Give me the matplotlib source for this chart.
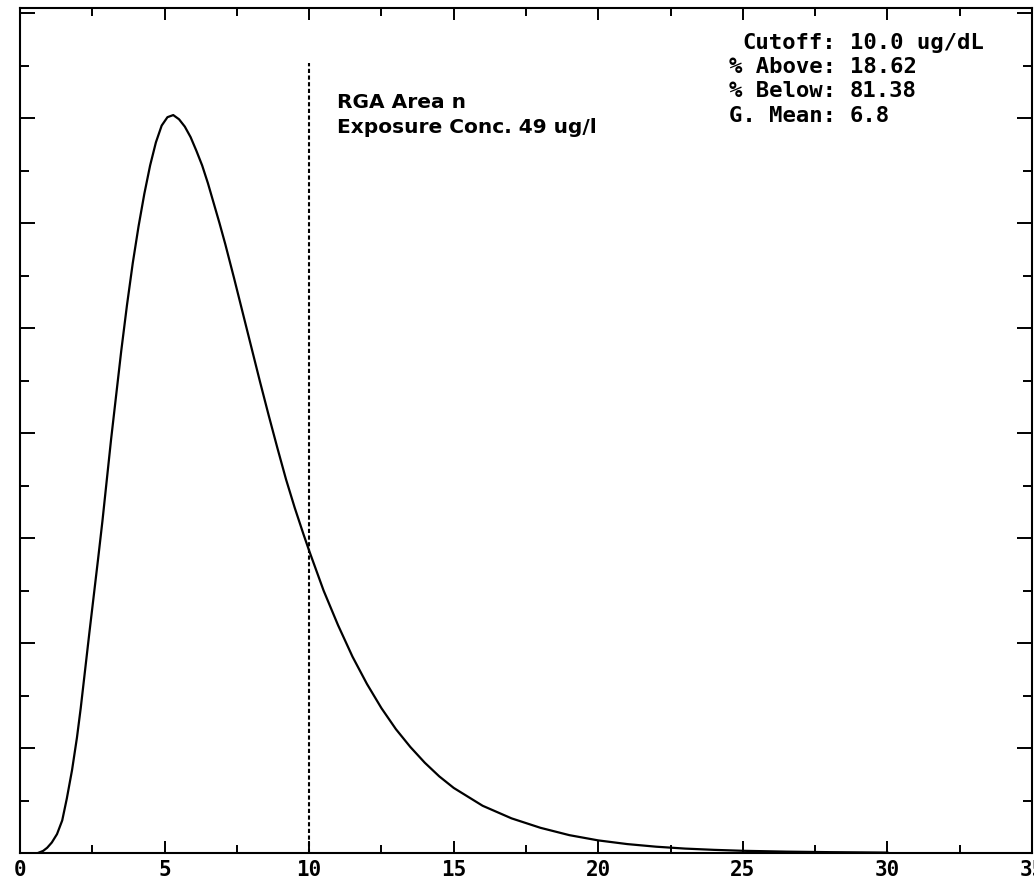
import matplotlib
matplotlib.use("Agg")
import matplotlib.pyplot as plt
from matplotlib.ticker import MultipleLocator

# ---- data ----
curve_x = [0.62, 0.80, 0.94, 1.10, 1.28, 1.46, 1.62, 1.80, 1.97, 2.10, 2.25, 2.40,
           2.55, 2.70, 2.85, 3.00, 3.15, 3.30, 3.50, 3.70, 3.90, 4.10, 4.30, 4.50,
           4.70, 4.90, 5.10, 5.30, 5.50, 5.70, 5.90, 6.10, 6.30, 6.50, 6.70, 6.90,
           7.10, 7.40, 7.70, 8.00, 8.30, 8.60, 8.90, 9.20, 9.50, 9.80, 10.00, 10.50,
           11.00, 11.50, 12.00, 12.50, 13.00, 13.50, 14.00, 14.50, 15.00, 16.00,
           17.00, 18.00, 19.00, 20.00, 21.00, 22.00, 23.00, 24.00, 25.00, 26.50,
           28.00, 30.00]
curve_y = [0.00, 0.02, 0.05, 0.10, 0.18, 0.31, 0.52, 0.79, 1.10, 1.38, 1.74, 2.10,
           2.45, 2.80, 3.16, 3.55, 3.94, 4.30, 4.78, 5.22, 5.62, 5.97, 6.28, 6.55,
           6.77, 6.93, 7.01, 7.03, 6.99, 6.92, 6.82, 6.69, 6.55, 6.38, 6.19, 6.00,
           5.80, 5.48, 5.15, 4.82, 4.49, 4.17, 3.86, 3.56, 3.29, 3.04, 2.88, 2.50,
           2.17, 1.87, 1.61, 1.38, 1.18, 1.01, 0.86, 0.73, 0.62, 0.45,
           0.33, 0.24, 0.17, 0.12, 0.085, 0.06, 0.042, 0.03, 0.021, 0.013,
           0.008, 0.004]

cutoff = 10.0
cutoff_top = 7.53

x_ticks = [0, 5, 10, 15, 20, 25, 30, 35]
x_tick_labels = ["0", "5", "10", "15", "20", "25", "30", "35"]

title_lines = ["RGA Area n", "Exposure Conc. 49 ug/l"]
stat_labels = ["Cutoff:", "% Above:", "% Below:", "G. Mean:"]
stat_values = ["10.0 ug/dL", "18.62", "81.38", "6.8"]

# ---- figure ----
W, H = 1034, 886
fig = plt.figure(figsize=(W / 100, H / 100), dpi=100)
ax = fig.add_axes([20 / W, (H - 853) / H, (1032 - 20) / W, (853 - 8) / H])

ax.plot(curve_x, curve_y, color="black", lw=1.6, solid_joinstyle="round")
ax.plot([cutoff, cutoff], [0, cutoff_top], color="black", lw=1.5,
        linestyle=(0, (2.0, 1.2)))

ax.set_xlim(0, 35)
ax.set_ylim(0, 8.05)

for s in ax.spines.values():
    s.set_linewidth(1.5)

ax.set_xticks(x_ticks)
ax.set_xticklabels(x_tick_labels, fontfamily="DejaVu Sans Mono",
                   fontweight="bold", fontsize=15)
ax.xaxis.set_minor_locator(MultipleLocator(2.5))
ax.yaxis.set_major_locator(MultipleLocator(1))
ax.yaxis.set_minor_locator(MultipleLocator(0.5))
ax.tick_params(axis="both", which="both", direction="in", top=True, right=True,
               width=1.4, color="black")
ax.tick_params(axis="x", which="major", length=8.6, pad=5)
ax.tick_params(axis="x", which="minor", length=5.8)
ax.tick_params(axis="y", which="major", length=10.5, labelleft=False)
ax.tick_params(axis="y", which="minor", length=6.5)

# annotation near cutoff line
for i, line in enumerate(title_lines):
    fig.text(337 / W, 1 - (93 + 25 * i) / H, line,
             ha="left", va="top", fontsize=14.5, fontweight="bold",
             fontfamily="DejaVu Sans", color="black")

# stats box
for i, (lab, val) in enumerate(zip(stat_labels, stat_values)):
    yy = 1 - (43 + 24.2 * i) / H
    fig.text(836 / W, yy, lab, ha="right", va="center", fontsize=16,
             fontweight="bold", fontfamily="DejaVu Sans Mono")
    fig.text(850 / W, yy, val, ha="left", va="center", fontsize=16,
             fontweight="bold", fontfamily="DejaVu Sans Mono")

fig.savefig("out.png", dpi=100, facecolor="white")
